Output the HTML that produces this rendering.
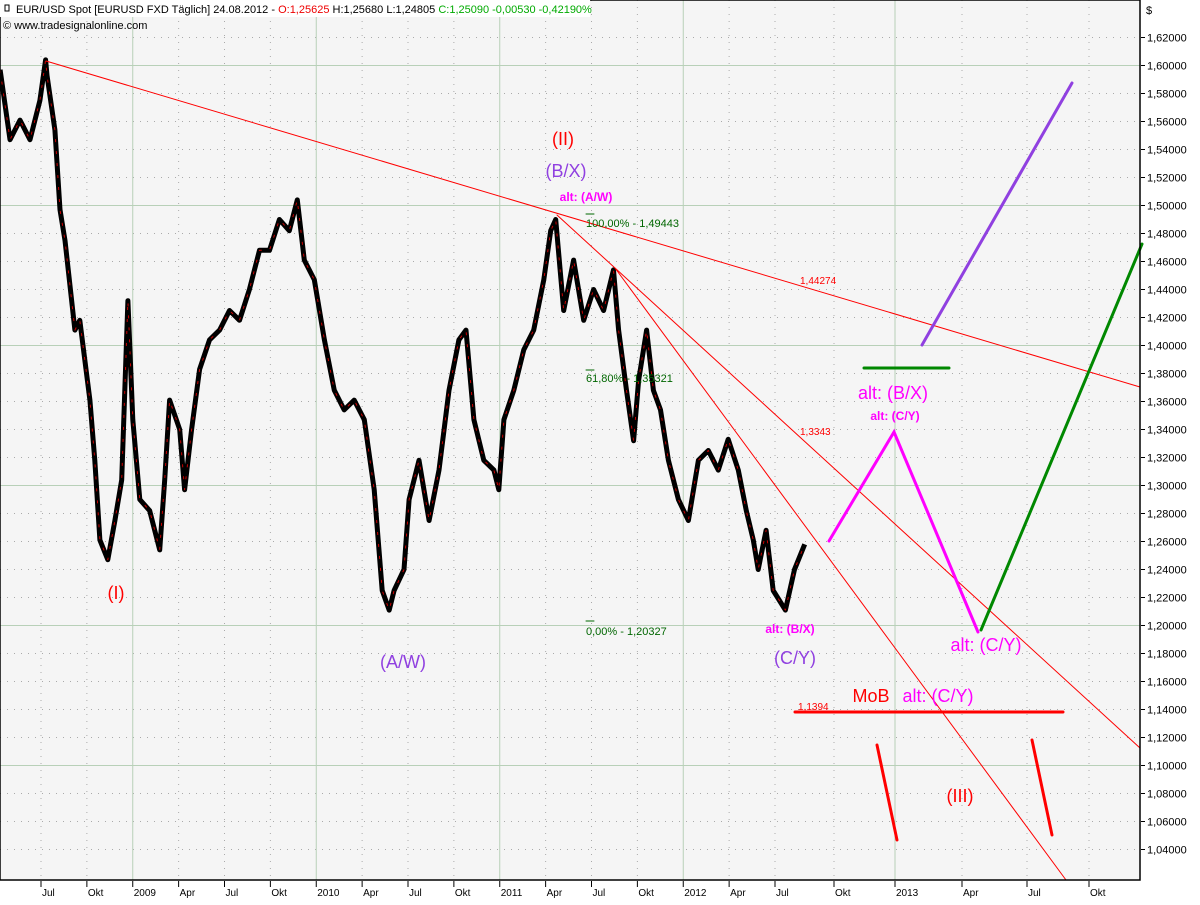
<!DOCTYPE html>
<html><head><meta charset="utf-8"><style>
body{margin:0;background:#fff;width:1200px;height:900px;overflow:hidden;font-family:"Liberation Sans",sans-serif}
svg text{font-family:"Liberation Sans","DejaVu Sans",sans-serif}
</style></head><body>
<svg id="chart" width="1200" height="900" xmlns="http://www.w3.org/2000/svg">
<rect x="0" y="0" width="1140" height="880" fill="#f5f5f5"/>
<g id="grid"></g>
<g id="price"></g>
<g stroke-linecap="round">
<line x1="46" y1="61" x2="1140" y2="387" stroke="#f00" stroke-width="1"/>
<line x1="557" y1="215" x2="1140" y2="748" stroke="#f00" stroke-width="1"/>
<line x1="615" y1="268" x2="1066" y2="880" stroke="#f00" stroke-width="1"/>
<line x1="586" y1="214" x2="594" y2="214" stroke="#060" stroke-width="1"/>
<line x1="586" y1="370" x2="594" y2="370" stroke="#060" stroke-width="1"/>
<line x1="586" y1="621" x2="594" y2="621" stroke="#060" stroke-width="1"/>
<line x1="795" y1="712" x2="1063" y2="712" stroke="#f00" stroke-width="3"/>
<line x1="864" y1="368" x2="949" y2="368" stroke="#080" stroke-width="3"/>
<line x1="922" y1="345" x2="1072" y2="83" stroke="#9040e0" stroke-width="3"/>
<line x1="981" y1="630" x2="1142" y2="244" stroke="#080" stroke-width="3"/>
<polyline points="829,541 894,432 978,632" fill="none" stroke="#f0f" stroke-width="3"/>
<line x1="877" y1="745" x2="897" y2="840" stroke="#f00" stroke-width="3"/>
<line x1="1032" y1="740" x2="1052" y2="835" stroke="#f00" stroke-width="3"/>
</g>
<g>
<text x="800" y="284" font-size="10" fill="#f00">1,44274</text>
<text x="800" y="435" font-size="10" fill="#f00">1,3343</text>
<text x="798" y="710" font-size="10" fill="#f00">1,1394</text>
<text x="586" y="227" font-size="11" fill="#060">100,00% - 1,49443</text>
<text x="586" y="382" font-size="11" fill="#060">61,80% - 1,35321</text>
<text x="586" y="635" font-size="11" fill="#060">0,00% - 1,20327</text>
<text x="116" y="599" font-size="18" fill="#f00" text-anchor="middle">(I)</text>
<text x="563" y="145" font-size="18" fill="#f00" text-anchor="middle">(II)</text>
<text x="566" y="177" font-size="18" fill="#9040e0" text-anchor="middle">(B/X)</text>
<text x="586" y="201" font-size="12" font-weight="bold" fill="#f0f" text-anchor="middle">alt: (A/W)</text>
<text x="403" y="668" font-size="18" fill="#9040e0" text-anchor="middle">(A/W)</text>
<text x="790" y="633" font-size="12" font-weight="bold" fill="#f0f" text-anchor="middle">alt: (B/X)</text>
<text x="795" y="664" font-size="18" fill="#9040e0" text-anchor="middle">(C/Y)</text>
<text x="893" y="399" font-size="18" fill="#f0f" text-anchor="middle">alt: (B/X)</text>
<text x="895" y="420" font-size="12" font-weight="bold" fill="#f0f" text-anchor="middle">alt: (C/Y)</text>
<text x="986" y="651" font-size="18" fill="#f0f" text-anchor="middle">alt: (C/Y)</text>
<text x="871" y="702" font-size="18" fill="#f00" text-anchor="middle">MoB</text>
<text x="938" y="702" font-size="18" fill="#f0f" text-anchor="middle">alt: (C/Y)</text>
<text x="960" y="802" font-size="18" fill="#f00" text-anchor="middle">(III)</text>
</g>
<rect x="0" y="0" width="1140" height="880" fill="none" stroke="#000" stroke-width="1.5"/>
<g id="axes"></g>
<rect x="0" y="0" width="590" height="17" fill="#fff"/>
<text x="16" y="13" font-size="11" fill="#000">EUR/USD Spot [EURUSD FXD  Täglich] 24.08.2012 - <tspan fill="#e00">O:1,25625</tspan> H:1,25680 L:1,24805 <tspan fill="#0a0">C:1,25090 -0,00530 -0,42190%</tspan></text>
<rect x="5" y="5" width="4" height="6" fill="none" stroke="#000"/>
<text x="3" y="29" font-size="11" fill="#000">© www.tradesignalonline.com</text>
<text x="1146" y="14" font-size="11" fill="#000">$</text>
</svg>
<script>
// time = months since Jan 2008
const months=[3.33,3.98,4.63,5.28,5.93,6.3,6.39,6.91,7.24,7.57,8.22,8.54,9.2,9.52,9.85,10.37,10.83,11.28,11.68,12.0,12.46,13.11,13.76,14.09,14.41,15.07,15.39,15.85,16.37,17.02,17.68,18.33,18.98,19.63,20.29,20.94,21.59,22.24,22.76,23.22,23.87,24.53,25.18,25.83,26.48,27.14,27.79,28.31,28.77,29.09,29.74,30.07,30.72,31.38,32.03,32.68,33.33,33.79,34.31,34.96,35.62,35.94,36.27,36.92,37.57,38.22,38.88,39.33,39.66,40.18,40.83,41.49,42.14,42.79,43.44,43.77,44.29,44.75,45.08,45.6,46.05,46.51,47.03,47.68,48.34,48.99,49.64,50.29,50.94,51.6,52.12,52.58,52.9,53.42,53.88,54.53,54.99,55.51];
const closes=[1.597,1.547,1.561,1.547,1.575,1.604,1.593,1.554,1.497,1.475,1.411,1.418,1.361,1.318,1.261,1.247,1.275,1.304,1.432,1.347,1.290,1.282,1.254,1.304,1.361,1.340,1.297,1.340,1.383,1.404,1.411,1.425,1.418,1.440,1.468,1.468,1.490,1.482,1.504,1.461,1.447,1.404,1.368,1.354,1.361,1.347,1.297,1.225,1.211,1.225,1.240,1.290,1.318,1.275,1.311,1.368,1.404,1.411,1.347,1.318,1.311,1.297,1.347,1.368,1.397,1.411,1.447,1.482,1.490,1.425,1.461,1.418,1.440,1.425,1.454,1.411,1.368,1.332,1.375,1.411,1.368,1.354,1.318,1.290,1.275,1.318,1.325,1.311,1.333,1.311,1.282,1.261,1.240,1.268,1.225,1.211,1.240,1.258];
const yTicks=[1.62,1.60,1.58,1.56,1.54,1.52,1.50,1.48,1.46,1.44,1.42,1.40,1.38,1.36,1.34,1.32,1.30,1.28,1.26,1.24,1.22,1.20,1.18,1.16,1.14,1.12,1.10,1.08,1.06,1.04];
const xTickMonths=[6,9,12,15,18,21,24,27,30,33,36,39,42,45,48,51,54,57,60,63,66,69];
const xTickLabels=["Jul","Okt","2009","Apr","Jul","Okt","2010","Apr","Jul","Okt","2011","Apr","Jul","Okt","2012","Apr","Jul","Okt","2013","Apr","Jul","Okt"];
const anchorM=[0,6,54,57,60,63,66,69,72];
const anchorX=[-51,41,775,834,895,962,1027,1089,1151];
function xs(m){for(let i=0;i<anchorM.length-1;i++){if(m<=anchorM[i+1]||i==anchorM.length-2){return anchorX[i]+(m-anchorM[i])*(anchorX[i+1]-anchorX[i])/(anchorM[i+1]-anchorM[i]);}}}
function ys(v){return 65.5+(1.60-v)*1400;}
const NS="http://www.w3.org/2000/svg";
function mk(t,a,p){const e=document.createElementNS(NS,t);for(const k in a)e.setAttribute(k,a[k]);p.appendChild(e);return e;}
const grid=document.getElementById('grid'),axes=document.getElementById('axes'),price=document.getElementById('price');
yTicks.forEach(v=>{const y=ys(v);const major=Math.abs(Math.round(v*100)%10)===0;
 const l=mk('line',{x1:0,x2:1140,y1:y,y2:y,stroke:major?'#b8d0b8':'#aaa','stroke-width':1,'stroke-dasharray':major?'':'1,6'},grid);
 
 
 const t=mk('line',{x1:1141,x2:1145,y1:y,y2:y,stroke:'#000'},axes);
 
 
 const tx=mk('text',{x:1147,y:y+4,'font-size':11,fill:'#000'},axes);tx.textContent=v.toFixed(5).replace('.',',');
 
 
});
xTickMonths.forEach((m,i)=>{const x=xs(m);const major=m%12===0;
 const l=mk('line',{x1:x,x2:x,y1:0,y2:880,stroke:major?'#b8d0b8':'#aaa','stroke-width':1,'stroke-dasharray':major?'':'1,6'},grid);
 
 
 const t=mk('line',{x1:x,x2:x,y1:881,y2:887,stroke:'#000'},axes);
 
 
 const tx=mk('text',{x:x+1,y:896,'font-size':10,fill:'#000'},axes);tx.textContent=xTickLabels[i];
 
 
});
const pts=months.map((m,i)=>xs(m).toFixed(1)+','+ys(closes[i]).toFixed(1)).join(' ');
const band=mk('polyline',{points:pts,fill:'none',stroke:'#000','stroke-width':5,'stroke-linejoin':'round'},price);


const ln=mk('polyline',{points:pts,fill:'none',stroke:'#c00','stroke-width':1,'stroke-linejoin':'round','stroke-dasharray':'3,9'},price);


</script>
</body></html>
